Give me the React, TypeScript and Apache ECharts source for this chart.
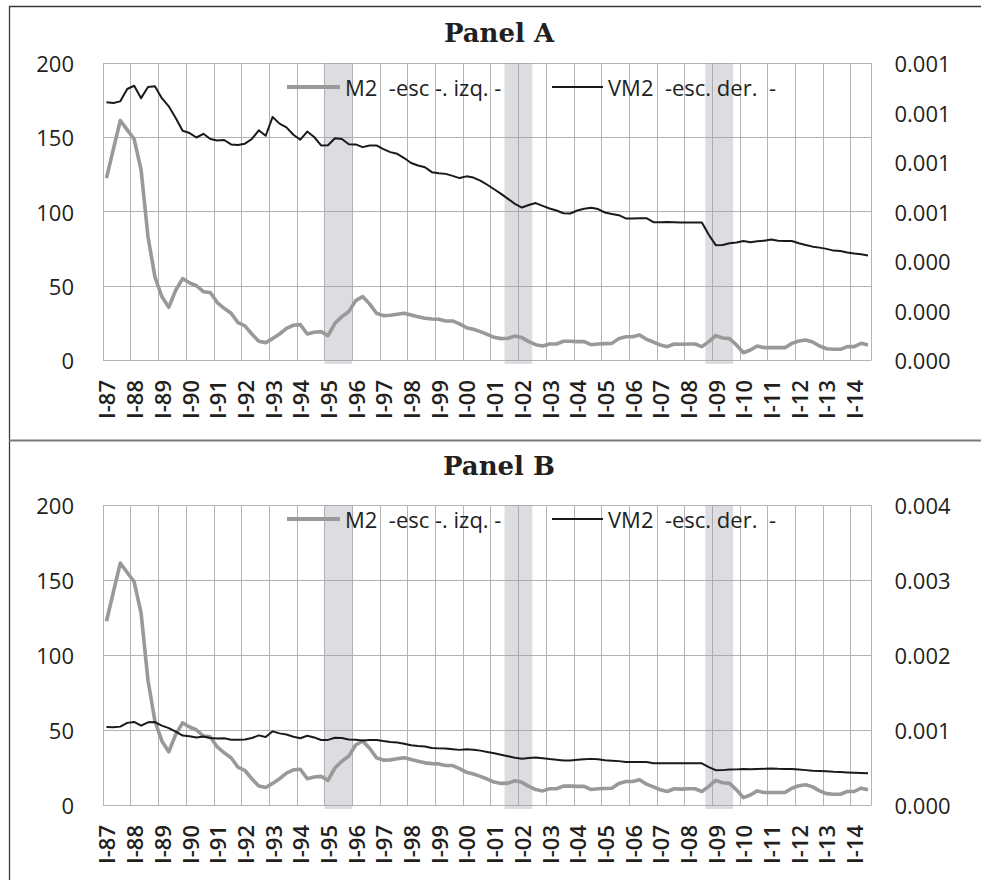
import React, { useEffect, useRef } from 'react';
import * as echarts from 'echarts';

// ---- categories (quarters) ----
const years = ['87', '88', '89', '90', '91', '92', '93', '94', '95', '96', '97', '98', '99', '00', '01', '02', '03', '04', '05', '06', '07', '08', '09', '10', '11', '12', '13', '14'];
const quarterNames = ['I', 'II', 'III', 'IV'];
const quartersInLastYear = 3;
const categories: string[] = [];
years.forEach((y, yi) => {
  const n = yi === years.length - 1 ? quartersInLastYear : quarterNames.length;
  for (let q = 0; q < n; q++) categories.push(`${quarterNames[q]}-${y}`);
});

// ---- series values ----
const m2 = [
  122.5, 142, 161.3, 155, 148.8, 128, 83, 56, 42.7, 35.5,
  47, 54.8, 52, 50, 46, 45.4, 38.7, 34.8, 31.5, 25.2,
  23, 17.5, 12.6, 11.7, 14.4, 17.5, 21.3, 23.4, 23.8, 17.5,
  18.7, 19.1, 16.4, 24.7, 29.2, 32.6, 40, 42.7, 37.8, 31.5,
  29.9, 30.1, 30.8, 31.5, 30.3, 29.2, 28.1, 27.6, 27.4, 26.3,
  26.3, 24.3, 21.8, 20.7, 19.1, 17.3, 15.3, 14.4, 14.6, 16.2,
  15.1, 12.4, 10.3, 9.4, 10.8, 10.8, 12.6, 12.6, 12.4, 12.4,
  10.3, 10.8, 11, 11.2, 14.4, 15.7, 15.7, 16.9, 13.9, 12.1,
  10.1, 9, 10.8, 10.6, 10.8, 10.8, 9, 12.4, 16.4, 14.8,
  14.4, 10.1, 4.9, 6.7, 9.4, 8.3, 8.3, 8.3, 8.3, 11.2,
  12.8, 13.5, 12.1, 9.4, 7.6, 7.2, 7.2, 9, 9, 11.2,
  10.1,
];

const vm2 = [
  0.001041, 0.001038, 0.001045, 0.001095, 0.001108, 0.001058, 0.001103, 0.001106, 0.001058, 0.001025,
  0.000978, 0.000926, 0.000917, 0.000899, 0.000914, 0.000893, 0.000887, 0.000889, 0.000871, 0.000869,
  0.000874, 0.000893, 0.000928, 0.000906, 0.000982, 0.000955, 0.000940, 0.000910, 0.000890, 0.000923,
  0.000901, 0.000867, 0.000868, 0.000896, 0.000893, 0.000872, 0.000871, 0.000860, 0.000867, 0.000867,
  0.000852, 0.000840, 0.000833, 0.000816, 0.000796, 0.000786, 0.000779, 0.000759, 0.000755, 0.000752,
  0.000744, 0.000735, 0.000742, 0.000737, 0.000725, 0.000708, 0.000690, 0.000671, 0.000651, 0.000631,
  0.000616, 0.000626, 0.000634, 0.000623, 0.000612, 0.000604, 0.000593, 0.000592, 0.000604, 0.000611,
  0.000615, 0.000610, 0.000596, 0.000590, 0.000585, 0.000572, 0.000572, 0.000573, 0.000573, 0.000557,
  0.000557, 0.000558, 0.000557, 0.000556, 0.000556, 0.000556, 0.000556, 0.000506, 0.000464, 0.000465,
  0.000472, 0.000475, 0.000481, 0.000476, 0.000480, 0.000482, 0.000487, 0.000482, 0.000481, 0.000481,
  0.000472, 0.000465, 0.000458, 0.000454, 0.000449, 0.000442, 0.000440, 0.000434, 0.000430, 0.000427,
  0.000422,
];

// ---- shaded periods ----
const recessionStart = ['I-95', 'III-01', 'IV-08'];
const recessionEnd = ['IV-95', 'II-02', 'III-09'];

// ---- axis scales ----
const leftMax = 200;
const leftStep = 50;
const rightMaxA = 0.0012;
const rightStepA = 0.0002;
const rightMaxB = 0.004;
const rightStepB = 0.001;

const nameM2 = 'M2  -esc -. izq. -';
const nameVM2 = 'VM2  -esc. der.  -';

const FONT = '"Open Sans", "DejaVu Sans", sans-serif';
const TEXT_COLOR = '#231f20';
const GRID_COLOR = '#b3b3b3';
const BAND_COLOR = 'rgba(160,160,172,0.36)';

export default function App() {
  const ref = useRef<HTMLDivElement>(null);

  useEffect(() => {
    if (!ref.current) return;
    const chart = echarts.init(ref.current, undefined, { renderer: 'svg' });

    const bandData = recessionStart.map((s, i) => [categories.indexOf(s), categories.indexOf(recessionEnd[i])]);

    const renderBand = (params: any, api: any) => {
      const s = api.value(0);
      const e = api.value(1);
      const bw = api.size([1, 0])[0];
      const top = api.coord([s, leftMax]);
      const bottom = api.coord([s, 0]);
      const xEnd = api.coord([e, 0])[0];
      return {
        type: 'rect',
        shape: {
          x: top[0] - bw / 2,
          y: top[1],
          width: xEnd - top[0] + bw,
          height: bottom[1] - top[1] + 4,
        },
        style: { fill: BAND_COLOR },
      };
    };

    const makeX = (gridIndex: number) => ({
      type: 'category',
      gridIndex,
      data: categories,
      boundaryGap: true,
      axisLine: { show: false },
      axisTick: { show: false },
      axisLabel: {
        interval: 3,
        rotate: 90,
        margin: 20,
        fontSize: 22,
        fontWeight: 600,
        fontFamily: FONT,
        color: TEXT_COLOR,
      },
      splitLine: { show: true, interval: 3, lineStyle: { color: GRID_COLOR, width: 1 } },
    });

    const makeLeftY = (gridIndex: number) => ({
      type: 'value',
      gridIndex,
      position: 'left',
      min: 0,
      max: leftMax,
      interval: leftStep,
      axisLine: { show: false },
      axisTick: { show: false },
      axisLabel: { margin: 29, fontSize: 22, fontFamily: FONT, color: TEXT_COLOR },
      splitLine: { show: true, lineStyle: { color: GRID_COLOR, width: 1 } },
    });

    const makeRightY = (gridIndex: number, max: number, step: number) => ({
      type: 'value',
      gridIndex,
      position: 'right',
      min: 0,
      max,
      interval: step,
      axisLine: { show: false },
      axisTick: { show: false },
      splitLine: { show: false },
      axisLabel: {
        margin: 23,
        fontSize: 22,
        fontFamily: FONT,
        color: TEXT_COLOR,
        formatter: (v: number) => v.toFixed(3),
      },
    });

    const legendText = { fontSize: 22, fontFamily: FONT, color: TEXT_COLOR };

    const makeLegends = (top: number) => [
      {
        data: [nameM2],
        left: 287,
        top,
        padding: 0,
        icon: 'rect',
        itemWidth: 53,
        itemHeight: 4,
        itemGap: 0,
        textStyle: legendText,
        selectedMode: false,
      },
      {
        data: [nameVM2],
        left: 552,
        top,
        padding: 0,
        icon: 'rect',
        itemWidth: 51,
        itemHeight: 2,
        itemGap: 0,
        textStyle: legendText,
        selectedMode: false,
      },
    ];

    const lineM2 = (xAxisIndex: number, yAxisIndex: number) => ({
      name: nameM2,
      type: 'line',
      xAxisIndex,
      yAxisIndex,
      data: m2,
      symbol: 'none',
      color: '#999999',
      lineStyle: { color: '#999999', width: 3.6, join: 'round' },
      z: 3,
    });

    const lineVM2 = (xAxisIndex: number, yAxisIndex: number) => ({
      name: nameVM2,
      type: 'line',
      xAxisIndex,
      yAxisIndex,
      data: vm2,
      symbol: 'none',
      color: '#1a1a1a',
      lineStyle: { color: '#1a1a1a', width: 2, join: 'round' },
      z: 4,
    });

    const option: any = {
      animation: false,
      textStyle: { fontFamily: FONT },
      grid: [
        { left: 103, top: 63, width: 768.5, height: 297 },
        { left: 103, top: 505, width: 768.5, height: 300 },
      ],
      legend: [...makeLegends(76), ...makeLegends(508)],
      xAxis: [makeX(0), makeX(1)],
      yAxis: [
        makeLeftY(0),
        makeRightY(0, rightMaxA, rightStepA),
        makeLeftY(1),
        makeRightY(1, rightMaxB, rightStepB),
      ],
      graphic: [
        { type: 'line', shape: { x1: 9.5, y1: 6, x2: 9.5, y2: 880 }, style: { stroke: '#3a3a3a', lineWidth: 1.3 }, silent: true },
        { type: 'line', shape: { x1: 9, y1: 6.5, x2: 981, y2: 6.5 }, style: { stroke: '#3a3a3a', lineWidth: 1.3 }, silent: true },
        { type: 'line', shape: { x1: 9, y1: 440.5, x2: 981, y2: 440.5 }, style: { stroke: '#7a7a7a', lineWidth: 1.8 }, silent: true },
        {
          type: 'text', x: 499, y: 33, silent: true,
          style: { text: 'Panel A', align: 'center', verticalAlign: 'middle', font: 'bold 26px "DejaVu Serif"', fill: '#231f20' },
        },
        {
          type: 'text', x: 499, y: 466, silent: true,
          style: { text: 'Panel B', align: 'center', verticalAlign: 'middle', font: 'bold 26px "DejaVu Serif"', fill: '#231f20' },
        },
      ],
      series: [
        {
          type: 'custom', xAxisIndex: 0, yAxisIndex: 0, data: bandData, renderItem: renderBand,
          clip: false, silent: true, z: 1,
        },
        lineM2(0, 0),
        lineVM2(0, 1),
        {
          type: 'custom', xAxisIndex: 1, yAxisIndex: 2, data: bandData, renderItem: renderBand,
          clip: false, silent: true, z: 1,
        },
        lineM2(1, 2),
        lineVM2(1, 3),
      ],
    };

    chart.setOption(option);
    return () => chart.dispose();
  }, []);

  return (
    <div
      ref={ref}
      style={{ position: 'absolute', left: 0, top: 0, width: 981, height: 880, background: '#fff' }}
    />
  );
}
